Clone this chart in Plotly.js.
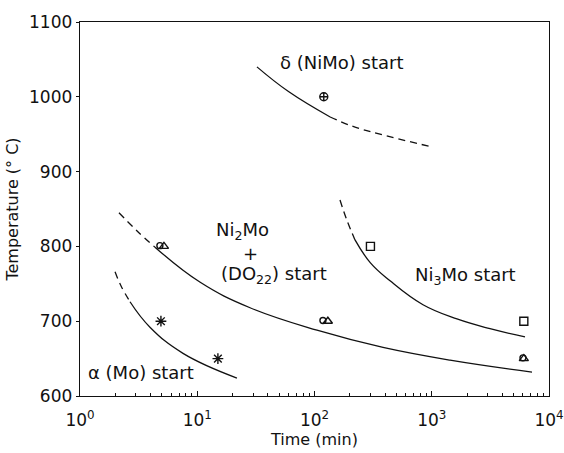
<!DOCTYPE html>
<html><head><meta charset="utf-8">
<script src="https://cdn.plot.ly/plotly-3.0.1.min.js"></script>
<style>html,body{margin:0;padding:0;background:#fff}#c{width:564px;height:453px}</style>
</head><body><div id="c"></div>
<script>
// Experimental points
const deltaT = [120];          const deltaY = [1000];
const ni3T = [300, 6100];      const ni3Y = [800, 700];
const alphaT = [4.9, 15];      const alphaY = [700, 650];
const ni2T = [5.2, 130, 6100]; const ni2Y = [800, 700, 650];
const do22T = [4.8, 118, 6000];const do22Y = [801, 701, 651];

// Start curves (solid and dashed parts)
const deltaSolidT = [32.3, 60, 136];            const deltaSolidY = [1040, 1007, 973];
const deltaDashT = [136, 208, 362, 1005];       const deltaDashY = [973, 961, 950, 933];
const ni2DashT = [2.15, 3.1, 4.36];             const ni2DashY = [845, 820, 799];
const ni2SolidT = [4.36, 10.6, 28.2, 105, 384, 1432, 7160]; const ni2SolidY = [799, 752, 718, 688, 665, 648, 632];
const ni3DashT = [165, 189, 221];               const ni3DashY = [862, 835, 809];
const ni3SolidT = [221, 300, 441, 842, 1641, 3140, 6240];
const ni3SolidY = [809, 778, 754, 722, 703, 690, 679];
const alphaDashT = [1.99, 2.24, 2.67];          const alphaDashY = [766, 747, 726];
const alphaSolidT = [2.67, 3.95, 7.56, 21.8];   const alphaSolidY = [726, 692, 657, 624];

const xTickVals = [1, 10, 100, 1000, 10000];
const xTickText = ['10<sup>0</sup>', '10<sup>1</sup>', '10<sup>2</sup>', '10<sup>3</sup>', '10<sup>4</sup>'];
const xMinorVals = [];
for (const d of [1, 10, 100, 1000]) for (let m = 2; m <= 9; m++) xMinorVals.push(d * m);
const yTickVals = [600, 700, 800, 900, 1000, 1100];

const ink = '#111';
const solid = {color: ink, width: 1.3, shape: 'spline', smoothing: 1.2};
const dashed = {color: ink, width: 1.3, shape: 'spline', smoothing: 1.2, dash: '7px,5px'};
function ln(x, y, line) { return {x, y, mode: 'lines', line, hoverinfo: 'skip'}; }
function pts(x, y, symbol, size) {
  return {x, y, mode: 'markers', marker: {symbol, size, color: ink, line: {color: ink, width: 1.4}}};
}

const data = [
  ln(deltaSolidT, deltaSolidY, solid), ln(deltaDashT, deltaDashY, dashed),
  ln(ni2DashT, ni2DashY, dashed), ln(ni2SolidT, ni2SolidY, solid),
  ln(ni3DashT, ni3DashY, dashed), ln(ni3SolidT, ni3SolidY, solid),
  ln(alphaDashT, alphaDashY, dashed), ln(alphaSolidT, alphaSolidY, solid),
  pts(deltaT, deltaY, 'circle-cross-open', 8),
  pts(ni3T, ni3Y, 'square-open', 8),
  pts(alphaT, alphaY, 'asterisk-open', 9),
  pts(ni2T, ni2Y, 'triangle-up-open', 8),
  pts(do22T, do22Y, 'circle-open', 6),
  {x: [1, 10000], y: [600, 600], xaxis: 'x2', mode: 'lines', line: {width: 0}, hoverinfo: 'skip'}
];

const F = 'DejaVu Sans, sans-serif';
function ann(text, x, y) {
  return {text, x, y, xref: 'x', yref: 'y', showarrow: false, font: {family: F, size: 18, color: ink}};
}

const layout = {
  width: 564, height: 453,
  margin: {l: 80, r: 15, t: 22, b: 57},
  paper_bgcolor: '#fff', plot_bgcolor: '#fff',
  showlegend: false,
  font: {family: F, color: ink},
  xaxis: {
    type: 'log', range: [0, 4], tickmode: 'array', tickvals: xTickVals, ticktext: xTickText,
    ticks: 'inside', ticklen: 5, tickcolor: ink, tickwidth: 1.2,
    showline: true, linecolor: ink, linewidth: 1.3, mirror: true,
    showgrid: false, zeroline: false,
    tickfont: {family: F, size: 17, color: ink},
    ticklabelstandoff: 8,
    title: {text: 'Time (min)', font: {family: F, size: 16, color: ink}, standoff: 2}
  },
  xaxis2: {
    type: 'log', range: [0, 4], overlaying: 'x', anchor: 'y', side: 'bottom',
    tickmode: 'array', tickvals: xMinorVals, ticks: 'inside', ticklen: 3, tickcolor: ink, tickwidth: 1,
    showticklabels: false, showline: false, showgrid: false, zeroline: false
  },
  yaxis: {
    range: [600, 1100], tickmode: 'array', tickvals: yTickVals,
    ticks: 'outside', ticklen: 3, tickcolor: ink,
    showline: true, linecolor: ink, linewidth: 1.3, mirror: true,
    showgrid: false, zeroline: false,
    tickfont: {family: F, size: 17, color: ink},
    title: {text: 'Temperature (° C)', font: {family: F, size: 16, color: ink}, standoff: 6}
  },
  annotations: [
    ann('δ (NiMo) start', 2.226, 1046),
    ann('Ni<sub>2</sub>Mo', 1.39, 821),
    ann('+', 1.45, 791),
    ann('(DO<sub>22</sub>) start', 1.654, 762),
    ann('Ni<sub>3</sub>Mo start', 3.288, 760),
    ann('α (Mo) start', 0.516, 632)
  ]
};

Plotly.newPlot('c', data, layout, {staticPlot: true, displayModeBar: false});
</script></body></html>
